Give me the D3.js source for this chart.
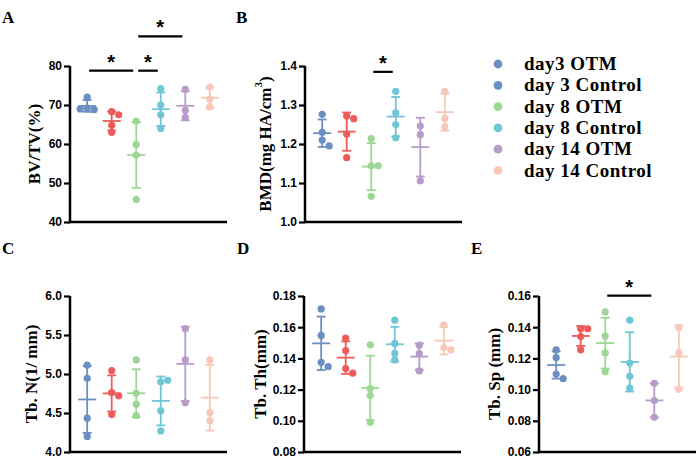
<!DOCTYPE html>
<html>
<head>
<meta charset="utf-8">
<script src="https://cdn.jsdelivr.net/npm/d3@7"></script>
<style>
  html, body { margin: 0; padding: 0; background: #fff; }
  svg { display: block; }
  .tick text { font-family: "Liberation Sans", Arial, sans-serif; font-weight: bold; font-size: 12px; fill: #000; }
</style>
</head>
<body>
<svg id="chart" width="700" height="467"></svg>
<script>
// ---------------- data ----------------
const groups = ["day3 OTM", "day 3 Control", "day 8 OTM", "day 8 Control", "day 14 OTM", "day 14 Control"];

const bvtv = [[72.0, 69.2, 68.8, 69.0], [68.3, 67.5, 64.8, 63.0], [65.9, 59.9, 57.1, 45.8], [74.2, 70.0, 67.5, 64.0], [74.0, 68.6, 66.8], [74.6, 71.5, 69.5]];
const bmd = [[1.276, 1.23, 1.21, 1.195], [1.272, 1.265, 1.225, 1.165], [1.214, 1.144, 1.144, 1.066], [1.335, 1.28, 1.25, 1.216], [1.246, 1.224, 1.106], [1.335, 1.266, 1.244]];
const tbN = [[5.115, 4.945, 4.434, 4.2], [5.045, 4.76, 4.72, 4.48], [5.18, 4.753, 4.613, 4.468], [4.9, 4.92, 4.53, 4.27], [5.58, 5.18, 4.63], [5.18, 4.506, 4.404]];
const tbTh = [[0.1717, 0.1547, 0.1375, 0.1347], [0.153, 0.145, 0.1335, 0.1305], [0.1487, 0.1206, 0.1162, 0.099], [0.1645, 0.1496, 0.1432, 0.139], [0.1485, 0.143, 0.132], [0.1615, 0.147, 0.1455]];
const tbSp = [[0.1255, 0.1205, 0.110, 0.107], [0.139, 0.139, 0.134, 0.1255], [0.1498, 0.1343, 0.1236, 0.1115], [0.1445, 0.117, 0.1085, 0.101], [0.104, 0.093, 0.0822], [0.1398, 0.1236, 0.1002]];

const ticksBVTV = [40, 50, 60, 70, 80];
const ticksBMD = [1.0, 1.1, 1.2, 1.3, 1.4];
const ticksTbN = [4.0, 4.5, 5.0, 5.5, 6.0];
const ticksTbTh = [0.08, 0.10, 0.12, 0.14, 0.16, 0.18];
const ticksTbSp = [0.06, 0.08, 0.10, 0.12, 0.14, 0.16];

// significance: [group a, group b, bar level value]
const sigBVTV = [[0, 2, 78.8], [2, 3, 78.8], [2, 4, 87.6]];
const sigBMD = [[2, 3, 1.385]];
const sigTbSp = [[2, 4, 0.1603]];

const groupColors = ["#6b8fc2", "#ee5b5b", "#9cd796", "#70c5d6", "#b79bc9", "#f8c7b7"];
const legendColors = ["#6b8fc2", "#6b8fc2", "#9cd796", "#70c5d6", "#b79bc9", "#f8c7b7"];

// ---------------- layout ----------------
const svg = d3.select("#chart");
const serif = '"Liberation Serif", "Times New Roman", serif';

const panels = [
  { letter: "A", data: bvtv, ticks: ticksBVTV, fmt: d3.format("d"), x0: 70, top: 66, bottom: 222, labelX: 34, label: "BV/TV(%)", sig: sigBVTV, lx: 2, ly: 23 },
  { letter: "B", data: bmd, ticks: ticksBMD, fmt: d3.format(".1f"), x0: 305, top: 66, bottom: 222, labelX: 265, label: "BMD", sig: sigBMD, lx: 236, ly: 23 },
  { letter: "C", data: tbN, ticks: ticksTbN, fmt: d3.format(".1f"), x0: 70, top: 296, bottom: 452, labelX: 31, label: "Tb. N(1/ mm)", sig: [], lx: 2, ly: 254 },
  { letter: "D", data: tbTh, ticks: ticksTbTh, fmt: d3.format(".2f"), x0: 304, top: 296, bottom: 452, labelX: 260, label: "Tb. Th(mm)", sig: [], lx: 237, ly: 254 },
  { letter: "E", data: tbSp, ticks: ticksTbSp, fmt: d3.format(".2f"), x0: 539, top: 296, bottom: 452, labelX: 494, label: "Tb. Sp (mm)", sig: sigTbSp, lx: 471, ly: 254 }
];
const plotW = 157;
const r = 3.6;

panels.forEach(p => {
  const g = svg.append("g");
  const y = d3.scaleLinear().domain([p.ticks[0], p.ticks[p.ticks.length - 1]]).range([p.bottom, p.top]);
  const x = d3.scalePoint().domain(d3.range(groups.length)).range([p.x0, p.x0 + plotW]).padding(0.7);

  // panel letter
  g.append("text").attr("x", p.lx).attr("y", p.ly)
    .attr("font-family", serif).attr("font-weight", "bold").attr("font-size", 17).text(p.letter);

  // y axis
  const ax = g.append("g").attr("transform", `translate(${p.x0},0)`)
    .call(d3.axisLeft(y).tickValues(p.ticks).tickFormat(p.fmt).tickSize(6).tickPadding(2));
  ax.select(".domain").attr("stroke", "#000").attr("stroke-width", 2.5).attr("d", `M0,${p.top}V${p.bottom}`);
  ax.selectAll(".tick line").attr("stroke", "#000").attr("stroke-width", 2.2);

  // x axis line
  g.append("line").attr("x1", p.x0 - 1).attr("x2", p.x0 + plotW).attr("y1", p.bottom).attr("y2", p.bottom)
    .attr("stroke", "#000").attr("stroke-width", 2.5);

  // y label
  const lab = g.append("text")
    .attr("transform", `translate(${p.labelX},${(p.top + p.bottom) / 2}) rotate(-90)`)
    .attr("text-anchor", "middle").attr("dominant-baseline", "central")
    .attr("font-family", serif).attr("font-weight", "bold").attr("font-size", 17);
  if (p.letter === "B") {
    lab.append("tspan").text("BMD(mg HA/cm");
    lab.append("tspan").attr("font-size", 11).attr("dy", -7).text("3");
    lab.append("tspan").attr("dy", 7).text(")");
  } else {
    lab.text(p.label);
  }

  // groups
  p.data.forEach((vals, gi) => {
    const col = groupColors[gi];
    const cx = x(gi);
    const mean = d3.mean(vals);
    const sd = d3.deviation(vals);
    const gg = g.append("g");
    // error bar
    gg.append("line").attr("x1", cx).attr("x2", cx).attr("y1", y(mean - sd)).attr("y2", y(mean + sd))
      .attr("stroke", col).attr("stroke-width", 1.8);
    [mean - sd, mean + sd].forEach(v => {
      gg.append("line").attr("x1", cx - 4.5).attr("x2", cx + 4.5).attr("y1", y(v)).attr("y2", y(v))
        .attr("stroke", col).attr("stroke-width", 1.8);
    });
    gg.append("line").attr("x1", cx - 9).attr("x2", cx + 9).attr("y1", y(mean)).attr("y2", y(mean))
      .attr("stroke", col).attr("stroke-width", 1.8);

    // dodge overlapping points horizontally
    const placed = [];
    const offsets = [0, 7, -7, 14, -14];
    vals.forEach(v => {
      const py = y(v);
      let px = cx;
      for (const o of offsets) {
        const ok = placed.every(q => Math.hypot(q[0] - (cx + o), q[1] - py) >= 2 * r * 0.9);
        if (ok) { px = cx + o; break; }
      }
      placed.push([px, py]);
      gg.append("circle").attr("cx", px).attr("cy", py).attr("r", r).attr("fill", col);
    });
  });

  // significance bars
  p.sig.forEach(s => {
    const x1 = x(s[0]) + 2, x2 = x(s[1]) - 3;
    const yy = y(s[2]);
    g.append("line").attr("x1", x1).attr("x2", x2).attr("y1", yy).attr("y2", yy)
      .attr("stroke", "#000").attr("stroke-width", 2.2);
    g.append("text").attr("x", (x1 + x2) / 2).attr("y", yy - 2).attr("text-anchor", "middle")
      .attr("font-family", '"Liberation Sans", Arial, sans-serif').attr("font-weight", "bold")
      .attr("font-size", 20).text("*");
  });
});

// legend
const leg = svg.append("g");
groups.forEach((name, i) => {
  const yy = 64 + i * 21.3;
  leg.append("circle").attr("cx", 498).attr("cy", yy).attr("r", 4.4).attr("fill", legendColors[i]);
  leg.append("text").attr("x", 524).attr("y", yy + 6).attr("letter-spacing", 0.5)
    .attr("font-family", serif).attr("font-weight", "bold").attr("font-size", 19).text(name);
});
</script>
</body>
</html>
